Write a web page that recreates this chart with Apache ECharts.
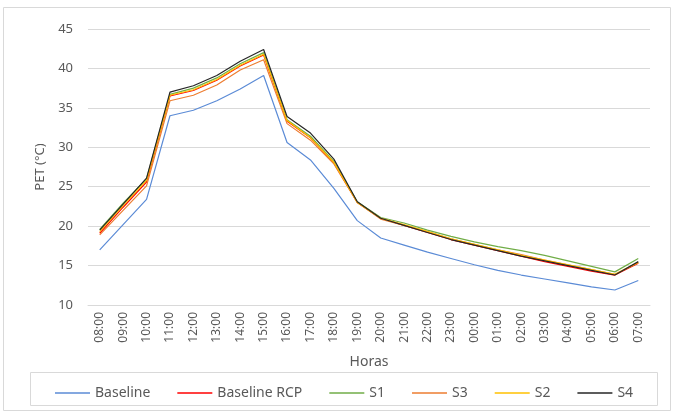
<!DOCTYPE html>
<html>
<head>
<meta charset="utf-8">
<script src="https://cdn.jsdelivr.net/npm/echarts@6/dist/echarts.min.js"></script>
<style>
html,body{margin:0;padding:0;background:#fff;}
#chart{width:681px;height:412px;}
</style>
</head>
<body>
<div id="chart"></div>
<script>
var hours = ['08:00','09:00','10:00','11:00','12:00','13:00','14:00','15:00','16:00','17:00','18:00','19:00','20:00','21:00','22:00','23:00','00:00','01:00','02:00','03:00','04:00','05:00','06:00','07:00'];
var baseline    = [17.0,20.2,23.4,34.0,34.7,35.9,37.4,39.1,30.6,28.4,24.8,20.7,18.5,17.6,16.7,15.9,15.1,14.4,13.8,13.3,12.8,12.3,11.9,13.1];
var baselineRCP = [19.1,22.4,25.6,36.5,37.2,38.5,40.3,41.7,33.3,31.2,28.0,23.0,21.0,20.1,19.2,18.3,17.6,16.9,16.2,15.5,14.9,14.3,13.8,15.3];
var s1          = [19.6,22.9,26.0,36.7,37.5,38.8,40.6,42.0,33.5,31.4,28.2,23.1,21.1,20.4,19.5,18.7,18.0,17.4,16.9,16.3,15.6,14.9,14.2,15.9];
var s3          = [18.9,22.0,25.1,35.9,36.6,37.9,39.8,41.1,33.0,30.9,27.9,23.0,20.9,20.1,19.3,18.4,17.7,17.0,16.4,15.7,15.1,14.5,13.9,15.4];
var s2          = [19.3,22.6,25.8,36.6,37.3,38.6,40.4,41.8,33.4,31.2,28.1,23.0,21.0,20.2,19.3,18.4,17.7,17.0,16.3,15.7,15.1,14.5,13.9,15.4];
var s4          = [19.5,22.8,26.1,37.0,37.8,39.1,40.9,42.4,33.9,31.8,28.5,23.1,21.0,20.1,19.2,18.3,17.6,16.9,16.2,15.6,15.0,14.4,13.8,15.5];

var seriesDefs = [
  {name:'Baseline', data:baseline, color:'#5b8bd6'},
  {name:'Baseline RCP', data:baselineRCP, color:'#ff0000'},
  {name:'S1', data:s1, color:'#70ad47'},
  {name:'S3', data:s3, color:'#ed7d31'},
  {name:'S2', data:s2, color:'#ffc000'},
  {name:'S4', data:s4, color:'#262626'}
];

var font = 'Noto Sans';
var chart = echarts.init(document.getElementById('chart'));
chart.setOption({
  animation:false,
  textStyle:{fontFamily:font},
  graphic:[
    {type:'rect', shape:{x:3.5,y:7.5,width:667,height:403}, style:{fill:null, stroke:'#d9d9d9', lineWidth:1}, silent:true, z:-1},
    {type:'rect', shape:{x:30.5,y:372.5,width:627,height:33}, style:{fill:null, stroke:'#d9d9d9', lineWidth:1}, silent:true, z:-1}
  ],
  legend:{
    data:seriesDefs.map(function(s){return s.name;}),
    icon:'rect',
    left:50, top:381,
    itemWidth:35, itemHeight:1.5, itemGap:27,
    textStyle:{color:'#595959', fontSize:14, fontFamily:font}
  },
  grid:{left:88, right:31, top:29, bottom:107, containLabel:false},
  xAxis:{
    type:'category',
    data:hours,
    boundaryGap:true,
    name:'Horas',
    nameLocation:'middle',
    nameGap:50,
    nameTextStyle:{color:'#595959', fontSize:14, fontFamily:font},
    axisLine:{lineStyle:{color:'#d9d9d9'}},
    axisTick:{show:false},
    axisLabel:{rotate:90, color:'#595959', fontSize:12, margin:7, interval:0, fontFamily:font}
  },
  yAxis:{
    type:'value',
    min:10, max:45, interval:5,
    name:'PET (°C)',
    nameLocation:'middle',
    nameGap:40,
    nameTextStyle:{color:'#595959', fontSize:13, fontFamily:font},
    axisLine:{show:false},
    axisTick:{show:false},
    splitLine:{lineStyle:{color:'#d9d9d9'}},
    axisLabel:{color:'#595959', fontSize:13, margin:15, fontFamily:font}
  },
  series:seriesDefs.map(function(s){
    return {
      name:s.name, type:'line', data:s.data, symbol:'none',
      lineStyle:{color:s.color, width:1.2},
      itemStyle:{color:s.color}
    };
  })
});
</script>
</body>
</html>
